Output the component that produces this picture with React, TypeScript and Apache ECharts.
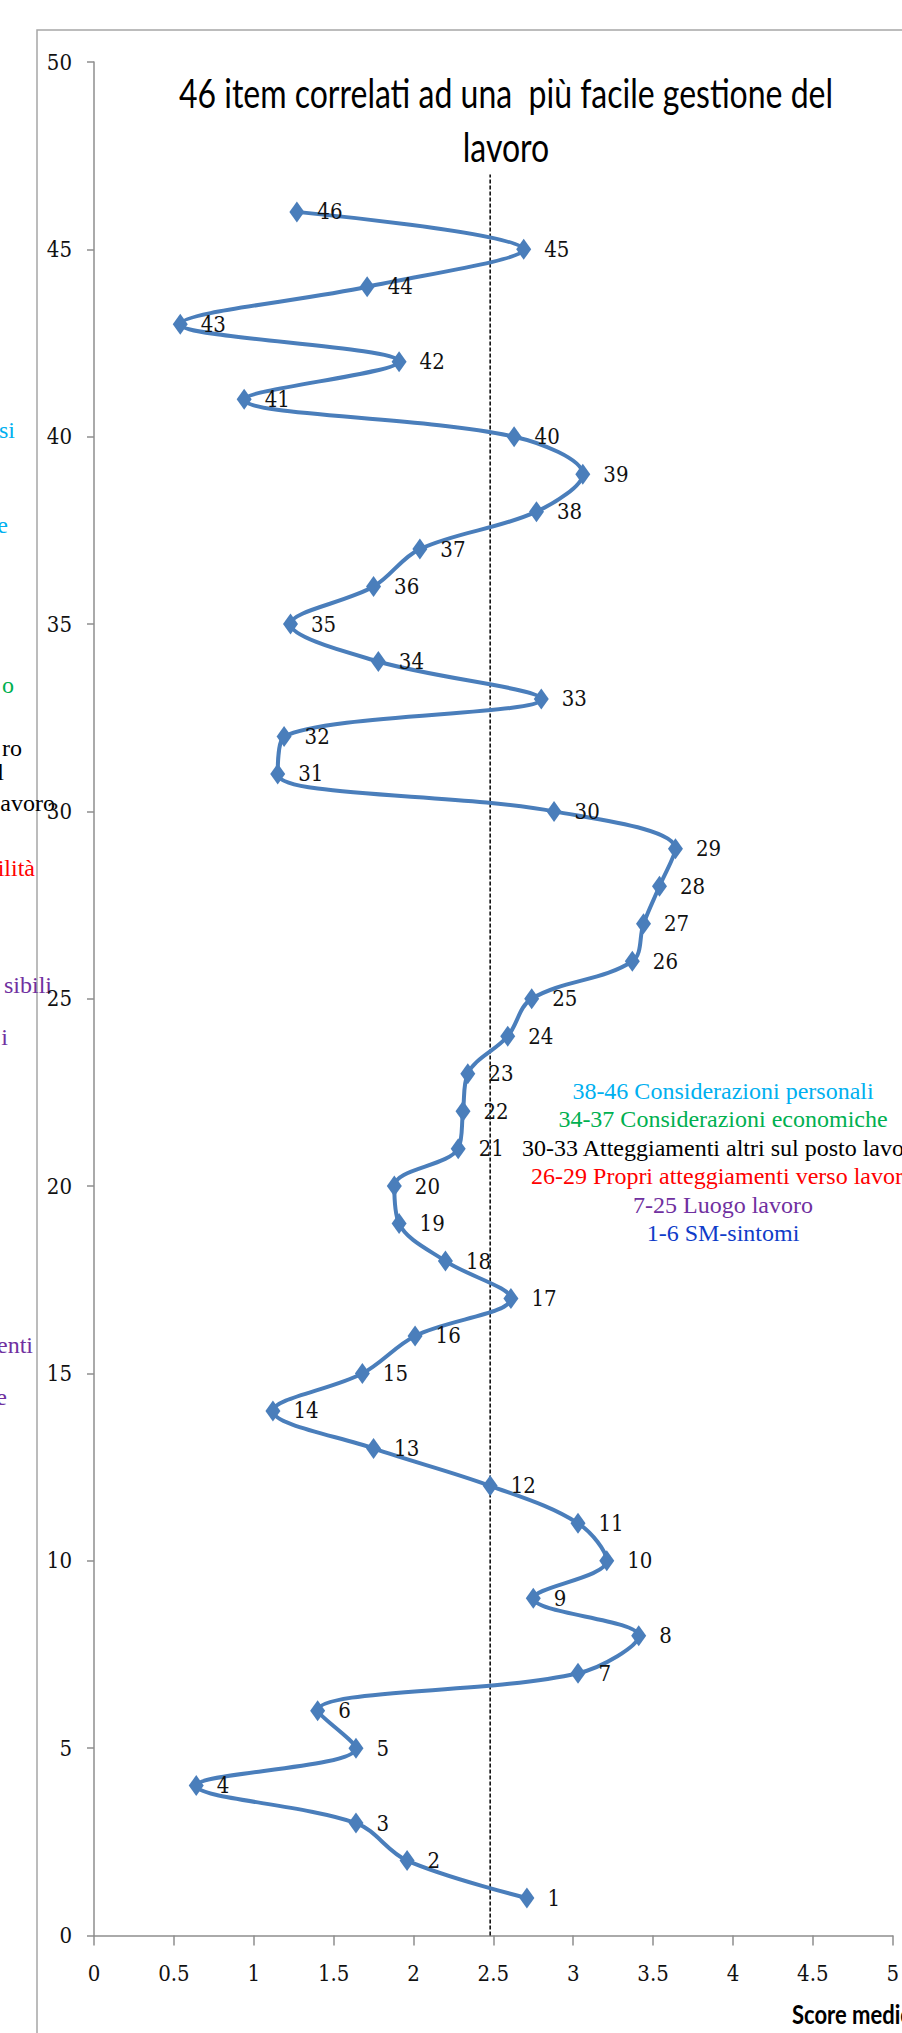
import React, { useEffect, useRef } from "react";
import * as echarts from "echarts";

// item numbers (y) and their mean scores (x)
const items = [1, 2, 3, 4, 5, 6, 7, 8, 9, 10, 11, 12, 13, 14, 15, 16, 17, 18, 19, 20, 21, 22, 23, 24, 25, 26, 27, 28, 29, 30, 31, 32, 33, 34, 35, 36, 37, 38, 39, 40, 41, 42, 43, 44, 45, 46];
const scores = [2.71, 1.96, 1.64, 0.64, 1.64, 1.4, 3.03, 3.41, 2.75, 3.21, 3.03, 2.48, 1.75, 1.12, 1.68, 2.01, 2.61, 2.2, 1.91, 1.88, 2.28, 2.31, 2.34, 2.59, 2.74, 3.37, 3.44, 3.54, 3.64, 2.88, 1.15, 1.19, 2.8, 1.78, 1.23, 1.75, 2.04, 2.77, 3.06, 2.63, 0.94, 1.91, 0.54, 1.71, 2.69, 1.27];

// dashed reference line
const refX = [2.48, 2.48];
const refY = [0, 47];

const titleLines = ["46 item correlati ad una  più facile gestione del", "lavoro"];
const xAxisTitle = "Score medio";

const groupTexts = [
  "38-46 Considerazioni personali",
  "34-37 Considerazioni economiche",
  "30-33 Atteggiamenti altri sul posto lavoro",
  "26-29 Propri atteggiamenti verso lavoro",
  "7-25 Luogo lavoro",
  "1-6 SM-sintomi",
];
const groupColors = ["#00B0F0", "#00B050", "#000000", "#FF0000", "#7030A0", "#0F3CC9"];

// fragments of a cropped side panel at the left edge
const sideTexts = ["si", "e", "o", "ro", "l", "avoro", "ilità", "sibili", "i", "enti", "e"];
const sideColors = ["#00B0F0", "#00B0F0", "#00B050", "#000000", "#000000", "#000000", "#FF0000", "#7030A0", "#7030A0", "#7030A0", "#7030A0"];
const sidePos = [
  [15, 430], [8, 525], [14, 685], [22, 748], [4, 772], [55, 803], [35, 868], [52, 985], [8, 1037], [33, 1345], [7, 1397],
];

const NUM_FONT = "'DejaVu Serif Condensed', 'DejaVu Serif', 'Liberation Serif', serif";
const TIMES = "'Liberation Serif', 'Times New Roman', serif";
const SANS = "Lato, 'Open Sans', 'Noto Sans', sans-serif";

export default function App() {
  const ref = useRef<HTMLDivElement>(null);

  useEffect(() => {
    document.body.style.margin = "0";
    if (!ref.current) return;
    const chart = echarts.init(ref.current, null, { renderer: "svg" });

    const lineData = items.map((it, i) => [scores[i], it]);
    const refData = refX.map((x, i) => [x, refY[i]]);

    const graphic: any[] = [
      {
        type: "rect",
        z: -10,
        shape: { x: 37, y: 30, width: 900, height: 2100 },
        style: { fill: "none", stroke: "#A6A6A6", lineWidth: 1.5 },
        silent: true,
      },
      {
        type: "text",
        x: 506,
        y: 93,
        scaleY: 1.25,
        style: { text: titleLines[0], fill: "#000", font: `32px ${SANS}`, align: "center", verticalAlign: "middle" },
      },
      {
        type: "text",
        x: 506,
        y: 147,
        scaleY: 1.25,
        style: { text: titleLines[1], fill: "#000", font: `32px ${SANS}`, align: "center", verticalAlign: "middle" },
      },
      {
        type: "text",
        x: 792,
        y: 2013,
        scaleY: 1.25,
        style: { text: xAxisTitle, fill: "#000", font: `bold 22px ${SANS}`, align: "left", verticalAlign: "middle" },
      },
    ];
    groupTexts.forEach((t, i) => {
      graphic.push({
        type: "text",
        x: 723,
        y: 1091 + i * 28.4,
        style: { text: t, fill: groupColors[i], font: `24px ${TIMES}`, align: "center", verticalAlign: "middle" },
      });
    });
    sideTexts.forEach((t, i) => {
      graphic.push({
        type: "text",
        x: sidePos[i][0],
        y: sidePos[i][1],
        style: { text: t, fill: sideColors[i], font: `24px ${TIMES}`, align: "right", verticalAlign: "middle" },
      });
    });

    const axisColor = "#8E8E8E";
    chart.setOption({
      animation: false,
      backgroundColor: "#ffffff",
      grid: { left: 94, top: 62, width: 811, height: 1873.5 },
      xAxis: {
        type: "value",
        min: 0,
        max: 5,
        interval: 0.5,
        axisLine: { show: true, onZero: false, lineStyle: { color: axisColor, width: 1.5 } },
        axisTick: { show: true, length: 10, lineStyle: { color: axisColor, width: 1.5 } },
        axisLabel: { margin: 27, fontFamily: NUM_FONT, fontSize: 22, color: "#111" },
        splitLine: { show: false },
      },
      yAxis: {
        type: "value",
        min: 0,
        max: 50,
        interval: 5,
        axisLine: { show: true, onZero: false, lineStyle: { color: axisColor, width: 1.5 } },
        axisTick: { show: true, length: 7, lineStyle: { color: axisColor, width: 1.5 } },
        axisLabel: { margin: 22, fontFamily: NUM_FONT, fontSize: 22, color: "#111" },
        splitLine: { show: false },
      },
      graphic,
      series: [
        {
          type: "line",
          data: refData,
          symbol: "none",
          silent: true,
          lineStyle: { color: "#000", width: 1.5, type: [4, 2] },
          z: 1,
        },
        {
          type: "line",
          data: lineData,
          smooth: 0.35,
          symbol: "diamond",
          symbolSize: [15, 21],
          itemStyle: { color: "#4A7EBB" },
          lineStyle: { color: "#4A7EBB", width: 4 },
          label: {
            show: true,
            position: "right",
            distance: 13,
            formatter: (p: any) => String(p.value[1]),
            fontFamily: NUM_FONT,
            fontSize: 22,
            color: "#111",
          },
          z: 3,
        },
      ],
    });

    return () => chart.dispose();
  }, []);

  return <div ref={ref} style={{ width: 902, height: 2033 }} />;
}
